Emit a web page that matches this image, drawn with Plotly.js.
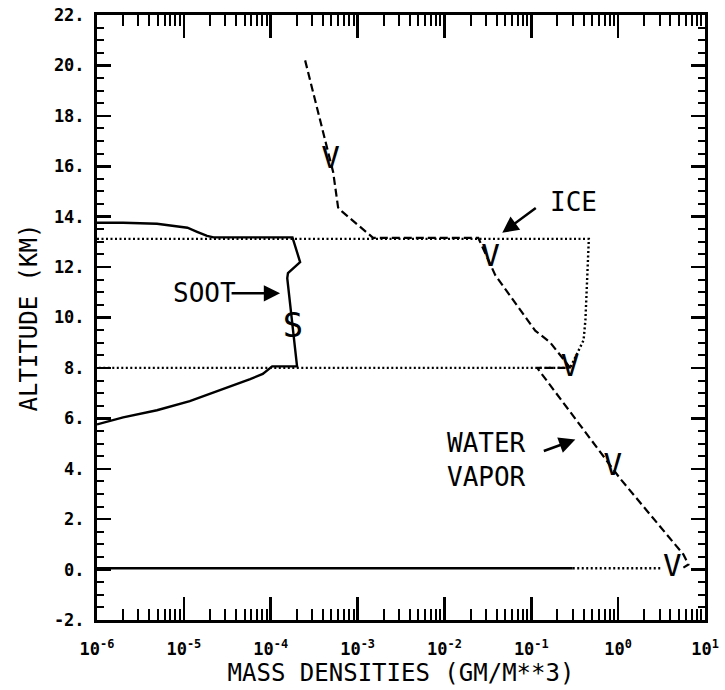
<!DOCTYPE html>
<html>
<head>
<meta charset="utf-8">
<script src="https://cdn.plot.ly/plotly-3.0.1.min.js"></script>
<style>html,body{margin:0;padding:0;background:#fff;}#chart{width:725px;height:690px;}</style>
</head>
<body>
<div id="chart"></div>
<script>
// ---- data ----
var sootX = [1e-6, 2e-6, 4.9e-6, 7.6e-6, 1.1e-5, 1.42e-5, 1.85e-5, 2.2e-5, 1.78e-4, 2.18e-4, 1.58e-4, 1.55e-4, 2.01e-4, 1.04e-4, 8.1e-5, 5.8e-5, 2.8e-5, 1.17e-5, 4.9e-6, 2.0e-6, 1e-6, null, 1e-6, 0.3];
var sootY = [13.76, 13.76, 13.72, 13.64, 13.56, 13.4, 13.24, 13.18, 13.18, 12.2, 11.76, 11.56, 8.06, 8.06, 7.76, 7.56, 7.16, 6.68, 6.32, 6.04, 5.76, null, 0.05, 0.05];

var iceX = [1e-6, 0.46, 0.42, 0.40, 0.28, 1e-6, null, 0.3, 3.1];
var iceY = [13.12, 13.12, 9.9, 9.1, 8.0, 8.0, null, 0.05, 0.05];

var vaporX = [2.49e-4, 5.24e-4, 5.97e-4, 6.65e-4, 1.51e-3, 0.0245, 0.0385, 0.111, 0.166, 0.247, 0.281, 0.117, 0.339, 0.624, 1.06, 5.64, 6.44, 5.64];
var vaporY = [20.2, 15.76, 14.36, 14.2, 13.16, 13.16, 11.68, 9.48, 9.0, 8.28, 8.0, 8.0, 5.88, 4.68, 3.6, 0.6, 0.2, 0.08];

var vaporMarkX = [4.9e-4, 0.034, 0.28, 0.87, 4.2];
var vaporMarkY = [16.24, 12.36, 8.0, 4.04, 0.04];
var sootMarkX = [1.8e-4];
var sootMarkY = [9.56];

var xTickVals = [1e-6, 1e-5, 1e-4, 1e-3, 1e-2, 1e-1, 1, 10];
var xTickText = ['10<sup>-6</sup>', '10<sup>-5</sup>', '10<sup>-4</sup>', '10<sup>-3</sup>', '10<sup>-2</sup>', '10<sup>-1</sup>', '10<sup>0</sup>', '10<sup>1</sup>'];
var yTickVals = [-2, 0, 2, 4, 6, 8, 10, 12, 14, 16, 18, 20, 22];
var yTickText = ['-2.', '0.', '2.', '4.', '6.', '8.', '10.', '12.', '14.', '16.', '18.', '20.', '22.'];

var xTitle = 'MASS DENSITIES (GM/M**3)';
var yTitle = 'ALTITUDE (KM)';

// minor log ticks (2..9 within each decade)
var xMinor = [];
for (var i = 0; i < xTickVals.length - 1; i++) {
  for (var k = 2; k <= 9; k++) xMinor.push(k * xTickVals[i]);
}
function bold(s) { return '<b>' + s + '</b>'; }

var mono = 'DejaVu Sans Mono';

var traces = [
  {x: iceX, y: iceY, mode: 'lines', line: {color: 'black', width: 2.4, dash: '2px,2.5px'}, hoverinfo: 'skip', connectgaps: false},
  {x: sootX, y: sootY, mode: 'lines', line: {color: 'black', width: 2.4}, hoverinfo: 'skip', connectgaps: false},
  {x: vaporX, y: vaporY, mode: 'lines', line: {color: 'black', width: 2.2, dash: '8px,4px'}, hoverinfo: 'skip'},
  {x: vaporMarkX, y: vaporMarkY, mode: 'text', text: vaporMarkX.map(function(){return 'V';}), textposition: 'middle center',
   textfont: {family: mono, size: 31, color: 'black'}, hoverinfo: 'skip'},
  {x: sootMarkX, y: sootMarkY, mode: 'text', text: ['S'], textposition: 'middle center',
   textfont: {family: mono, size: 34, color: 'black'}, hoverinfo: 'skip'}
];

var arrowStyle = {showarrow: true, arrowhead: 2, arrowsize: 1.3, arrowwidth: 2.5, arrowcolor: 'black', text: '', xref: 'x', yref: 'y'};
function arrow(x, y, ax, ay) {
  var a = {x: x, y: y, ax: ax, ay: ay};
  for (var k in arrowStyle) a[k] = arrowStyle[k];
  return a;
}
var labelFont = {family: mono, size: 26, color: 'black'};
var tickFont = {family: 'DejaVu Sans Mono', size: 17, color: 'black'};

var layout = {
  width: 725, height: 690,
  margin: {l: 97, r: 20, t: 15, b: 70},
  paper_bgcolor: 'white', plot_bgcolor: 'white',
  showlegend: false,
  xaxis: {
    type: 'log', range: [-6, 1], autorange: false,
    tickvals: xTickVals, ticktext: xTickText.map(bold),
    ticks: 'inside', ticklen: 23, tickwidth: 2.5, tickcolor: 'black',
    minor: {tickvals: xMinor, ticks: 'inside', ticklen: 11, tickwidth: 2, tickcolor: 'black', showgrid: false},
    showline: true, linewidth: 3, linecolor: 'black', mirror: 'ticks', layer: 'above traces',
    showgrid: false, zeroline: false,
    tickfont: tickFont, ticklabelstandoff: 12,
    title: {text: xTitle, font: {family: mono, size: 24, color: 'black'}, standoff: 4}
  },
  yaxis: {
    range: [-2, 22], autorange: false,
    tickvals: yTickVals, ticktext: yTickText.map(bold),
    ticks: 'inside', ticklen: 14, tickwidth: 2.5, tickcolor: 'black',
    minor: {dtick: 0.5, ticks: 'inside', ticklen: 7, tickwidth: 2, tickcolor: 'black', showgrid: false},
    showline: true, linewidth: 3, linecolor: 'black', mirror: 'ticks', layer: 'above traces',
    showgrid: false, zeroline: false,
    tickfont: tickFont, ticklabelstandoff: 6,
    title: {text: yTitle, font: {family: mono, size: 24, color: 'black'}, standoff: 10}
  },
  annotations: [
    {x: -0.516, y: 14.6, xref: 'x', yref: 'y', text: 'ICE', showarrow: false, font: labelFont},
    arrow(-1.334, 13.36, 35, -26),
    {x: -4.76, y: 10.96, xref: 'x', yref: 'y', text: 'SOOT', showarrow: false, font: labelFont},
    arrow(-3.892, 10.96, -50, 0),
    {x: -1.518, y: 4.36, xref: 'x', yref: 'y', text: 'WATER<br>VAPOR', showarrow: false, align: 'left', font: labelFont},
    arrow(-0.493, 5.16, -33, 12)
  ]
};

Plotly.newPlot('chart', traces, layout, {staticPlot: true, displayModeBar: false});
</script>
</body>
</html>
